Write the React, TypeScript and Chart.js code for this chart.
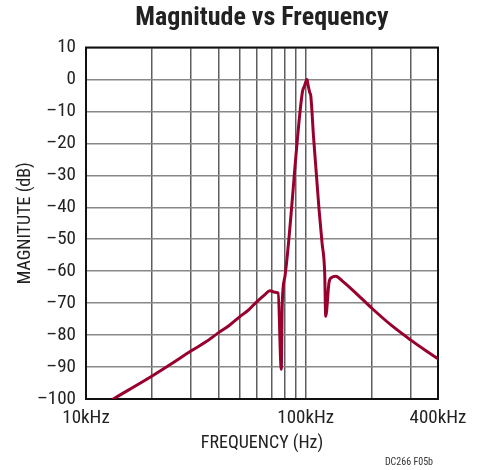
import React, { useEffect, useRef } from "react";
import { Chart, registerables } from "chart.js";

Chart.register(...registerables);

// Frequency (kHz) and magnitude (dB)
const freqKHz = [13.3, 20, 25, 30, 35, 40, 45, 50, 55, 60, 65, 68.7, 72.3, 74.9, 77.4, 78.2, 80.5, 96.5, 98.6, 101.4, 102.4, 104.3, 105.5, 108.5, 112, 115, 118.7, 122, 123.3, 127.7, 131, 137, 147, 170, 200, 245, 300, 354, 400];
const magnitudeDb = [-100, -92.8, -88.6, -85, -82.2, -79.3, -76.9, -74.3, -72.1, -69.5, -67.4, -66.1, -66.6, -66.9, -90.7, -70, -61.5, -4.1, -2.1, 0, -1.6, -4.1, -5.2, -17.8, -30.3, -40.7, -51.2, -60.6, -74.1, -63.5, -62, -61.6, -63.1, -67, -71.6, -76.9, -81.5, -85, -87.4];

// Axis grid / tick labels
const gridFreqsHz = [10000, 20000, 30000, 40000, 50000, 60000, 70000, 80000, 90000, 100000, 200000, 300000, 400000];
const labeledFreqs: Record<number, string> = { 10000: "10kHz", 100000: "100kHz", 400000: "400kHz" };
const yMin = -100;
const yMax = 10;
const yStep = 10;

const chartTitle = "Magnitude vs Frequency";
const xTitle = "FREQUENCY (Hz)";
const yTitle = "MAGNITUTE (dB)";
const footnote = "DC266 F05b";

const FONT = '"Roboto Condensed", "DejaVu Sans Condensed", "Liberation Sans Narrow", "Liberation Sans", Arial, sans-serif';

export default function App() {
  const ref = useRef<HTMLCanvasElement | null>(null);

  useEffect(() => {
    if (!ref.current) return;
    const frame = {
      id: "frame",
      beforeDatasetsDraw(chart: any) {
        const { ctx, chartArea: a } = chart;
        ctx.save();
        ctx.strokeStyle = "#111";
        ctx.lineWidth = 2;
        ctx.strokeRect(a.left, a.top, a.right - a.left, a.bottom - a.top);
        ctx.restore();
      },
      afterDraw(chart: any) {
        const { ctx, chartArea: a } = chart;
        ctx.save();
        ctx.fillStyle = "#222";
        ctx.textAlign = "center";
        ctx.textBaseline = "middle";
        ctx.font = `bold 26px ${FONT}`;
        ctx.fillText(chartTitle, (a.left + a.right) / 2, 18);
        ctx.font = `10px ${FONT}`;
        ctx.fillStyle = "#333";
        ctx.textAlign = "right";
        ctx.fillText(footnote, 433, 462);
        ctx.restore();
      },
    };

    const chart = new Chart(ref.current, {
      type: "line",
      data: {
        datasets: [
          {
            data: freqKHz.map((f, i) => ({ x: f * 1000, y: magnitudeDb[i] })),
            borderColor: "#98002e",
            borderWidth: 3,
            pointRadius: 0,
            cubicInterpolationMode: "monotone",
            borderJoinStyle: "round",
            borderCapStyle: "round",
          },
        ],
      },
      options: {
        responsive: false,
        animation: false,
        layout: { padding: { left: 0, right: 49, top: 47.5, bottom: 0 } },
        plugins: {
          legend: { display: false },
          tooltip: { enabled: false },
          title: { display: false },
        },
        scales: {
          x: {
            type: "logarithmic",
            min: 10000,
            max: 400000,
            afterBuildTicks: (scale: any) => {
              scale.ticks = gridFreqsHz.map((v) => ({ value: v }));
            },
            afterFit: (scale: any) => {
              scale.height = 71;
            },
            ticks: {
              autoSkip: false,
              maxRotation: 0,
              padding: 8,
              color: "#222",
              font: { family: FONT, size: 19 },
              callback: (v: any) => labeledFreqs[Number(v)] ?? "",
            },
            grid: { color: "#5e5e5e", lineWidth: 1.5, drawTicks: false },
            border: { display: false },
            title: {
              display: true,
              text: xTitle,
              color: "#222",
              font: { family: FONT, size: 18 },
              padding: { top: 0, bottom: 16 },
            },
          },
          y: {
            min: yMin,
            max: yMax,
            afterFit: (scale: any) => {
              scale.width = 86;
            },
            ticks: {
              stepSize: yStep,
              padding: 10,
              color: "#222",
              font: { family: FONT, size: 19 },
              callback: (v: any) => (Number(v) < 0 ? "\u2013" + Math.abs(Number(v)) : String(v)),
            },
            grid: { color: "#888", lineWidth: 1.5, drawTicks: false },
            border: { display: false },
            title: {
              display: true,
              text: yTitle,
              color: "#222",
              font: { family: FONT, size: 18 },
              padding: { top: 15, bottom: 0 },
            },
          },
        },
      },
      plugins: [frame],
    } as any);
    return () => chart.destroy();
  }, []);

  return (
    <div style={{ position: "absolute", left: 0, top: 0, width: 487, height: 470, background: "#fff" }}>
      <canvas ref={ref} width={487} height={470} style={{ width: 487, height: 470 }} />
    </div>
  );
}
